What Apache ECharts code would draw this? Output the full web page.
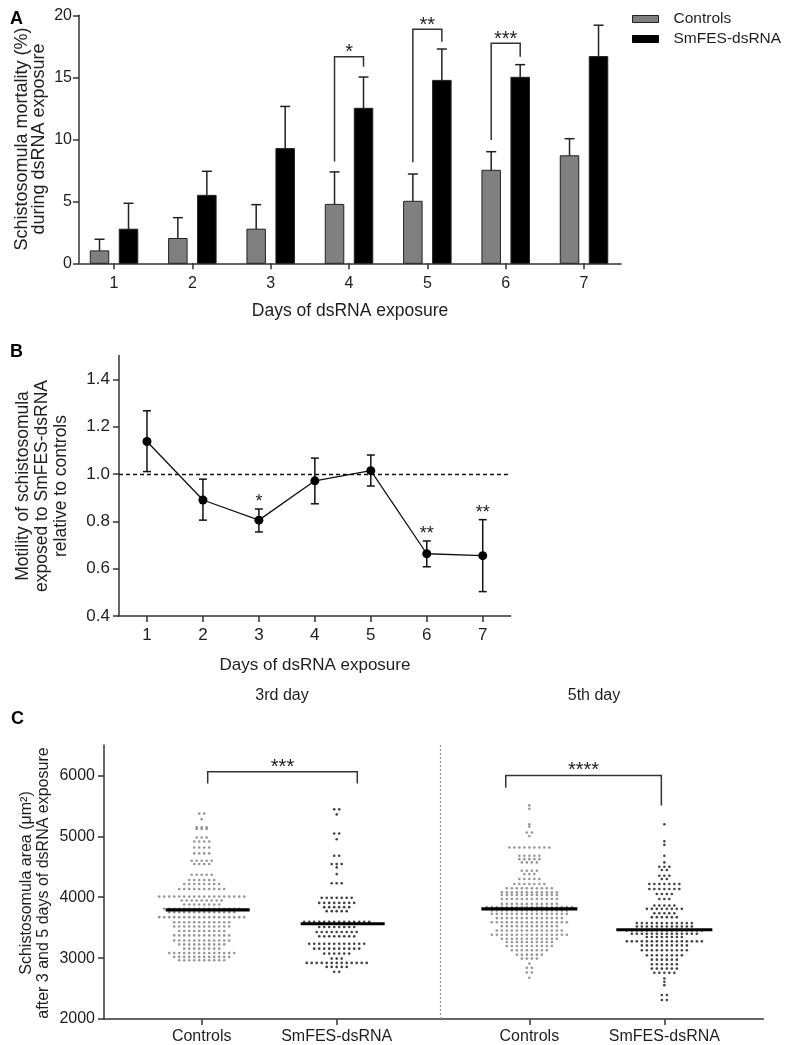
<!DOCTYPE html>
<html><head><meta charset="utf-8">
<script src="https://cdn.jsdelivr.net/npm/echarts@6/dist/echarts.min.js"></script>
<style>html,body{margin:0;padding:0;background:#fff}#c{width:787px;height:1045px}</style>
</head><body><div id="c"></div>
<script>
// ---------- Panel A data ----------
const daysA = [1, 2, 3, 4, 5, 6, 7];
const mortalityControls = [1.0, 2.0, 2.75, 4.75, 5.0, 7.5, 8.67];
const mortalityControlsSD = [0.94, 1.68, 1.98, 2.62, 2.2, 1.5, 1.38];
const mortalitySmFES = [2.75, 5.48, 9.25, 12.5, 14.75, 15.0, 16.67];
const mortalitySmFESSD = [2.09, 1.94, 3.4, 2.52, 2.53, 1.02, 2.53];
const sigDaysA = [4, 5, 6];
const sigLabelsA = ['*', '**', '***'];
const sigLeftFootA = [8.2, 8.15, 9.94];
const sigRightFootA = [15.85, 17.87, 16.66];
const sigTopA = [16.66, 18.87, 17.74];

// ---------- Panel B data ----------
const daysB = ['1', '2', '3', '4', '5', '6', '7'];
const motility = [1.137, 0.890, 0.805, 0.971, 1.014, 0.663, 0.655];
const motilityLow = [1.010, 0.805, 0.755, 0.874, 0.949, 0.608, 0.503];
const motilityHigh = [1.267, 0.978, 0.852, 1.067, 1.080, 0.717, 0.807];
const sigDaysB = [2, 5, 6];          // category indices (days 3, 6, 7)
const sigLabelsB = ['*', '**', '**'];
const referenceLevelB = 1.0;
const ticksB = [0.4, 0.6, 0.8, 1.0, 1.2, 1.4];

// ---------- Panel C data ----------
const groupNamesC = ['Controls', 'SmFES-dsRNA', 'Controls', 'SmFES-dsRNA'];
const groupPosC = [1, 2, 3.427, 4.427];
const dayDividerC = 2.77;
const mediansC = [3792, 3564, 3809, 3466];
const ticksC = [2000, 3000, 4000, 5000, 6000];
// rows of the dot plot: [area (µm²), number of dots at that level]
const ctrl3Rows = [[5373,2],[5280,1],[5150,3],[5120,3],[4980,3],[4915,4],[4817,4],[4720,4],[4600,5],[4545,4],[4370,5],[4283,6],[4218,8],[4136,10],[4010,18],[3945,9],[3880,8],[3810,16],[3755,14],[3673,18],[3590,12],[3520,12],[3445,10],[3373,12],[3290,12],[3225,10],[3155,8],[3085,14],[3020,12],[2965,10]];
const smfes3Rows = [[5443,2],[5360,1],[5046,2],[4953,1],[4680,2],[4544,3],[4490,1],[4380,1],[4229,3],[3990,7],[3907,8],[3837,6],[3771,5],[3596,14],[3510,8],[3428,9],[3357,8],[3237,12],[3155,10],[3074,6],[2992,3],[2921,13],[2856,5],[2775,2]];
const ctrl5Rows = [[5508,1],[5454,1],[5198,1],[5160,1],[5062,2],[5006,1],[4817,9],[4680,5],[4625,5],[4572,4],[4435,4],[4380,3],[4299,5],[4218,7],[4147,10],[4082,12],[4038,12],[3972,12],[3890,12],[3837,18],[3781,16],[3727,16],[3657,14],[3590,16],[3525,12],[3454,14],[3384,16],[3319,12],[3264,10],[3199,10],[3128,8],[3057,6],[2992,4],[2910,1],[2840,2],[2763,2],[2677,1]];
const smfes5Rows = [[5198,1],[4920,1],[4860,1],[4680,1],[4572,1],[4500,3],[4446,2],[4353,3],[4299,2],[4218,7],[4136,7],[4054,4],[3972,3],[3863,5],[3809,8],[3738,5],[3673,6],[3575,12],[3520,12],[3454,16],[3400,14],[3346,8],[3275,16],[3209,10],[3128,10],[3046,8],[2975,6],[2899,6],[2828,6],[2758,5],[2665,1],[2611,1],[2556,1],[2393,2],[2311,2]];
const sigPairsC = [[0, 1], [2, 3]];
const sigLabelsC = ['***', '****'];
const sigTopC = [6059, 6000];
const sigLeftFootC = [5868, 5797];
const sigRightFootC = [5868, 5508];

// ---------- styling / layout ----------
const FONT = '"Liberation Sans", Arial, Helvetica, sans-serif';
const TXT = '#1e1e1e';
const AX = '#333';
const GREY = '#808080';
const DOT_GREY = '#7c7c7c';
const BAR_OFF = 14.5, BAR_HW = 9.25;
const DOT_SPACING_PX = 5;
const PX_PER_UNIT_C = 659.3 / (5.16 - 0.2763);
const bracketOffsetsC = [[6, 20.6], [-23.6, -3]];
const medianHalfPx = [42, 42, 48, 48];
const medianShiftPx = [6, 6, 0, 0];

function swarm(rows, center) {
  const sp = DOT_SPACING_PX / PX_PER_UNIT_C;
  const pts = [];
  rows.forEach(([v, n]) => {
    for (let i = 0; i < n; i++) pts.push([center + (i - (n - 1) / 2) * sp, v]);
  });
  return pts;
}

function barRenderer(offsetPx, fill) {
  return function (params, api) {
    const x = api.value(0), v = api.value(1), hi = api.value(2);
    const base = api.coord([x, 0]), top = api.coord([x, v]), eh = api.coord([x, hi]);
    const cx = base[0] + offsetPx;
    const ls = { stroke: '#222', lineWidth: 1.5 };
    return { type: 'group', children: [
      { type: 'line', shape: { x1: cx, y1: top[1], x2: cx, y2: eh[1] }, style: ls },
      { type: 'line', shape: { x1: cx - 5, y1: eh[1], x2: cx + 5, y2: eh[1] }, style: ls },
      { type: 'rect', shape: { x: cx - BAR_HW, y: top[1], width: BAR_HW * 2, height: base[1] - top[1] }, style: { fill: fill, stroke: '#222', lineWidth: 1 } }
    ] };
  };
}

const axisLineStyle = { show: true, lineStyle: { color: AX, width: 1.5 } };
const tickStyle = { show: true, length: 6, lineStyle: { color: AX, width: 1.5 } };
const lbl = { color: TXT, fontSize: 16, fontFamily: FONT };
const lblB = { color: TXT, fontSize: 17, fontFamily: FONT };

const option = {
  animation: false,
  textStyle: { fontFamily: FONT },
  legend: {
    orient: 'vertical', left: 627, top: 6, itemWidth: 26, itemHeight: 7, itemGap: 4,
    selectedMode: false,
    textStyle: { color: TXT, fontSize: 15.5, fontFamily: FONT, padding: [0, 0, 0, 10] },
    data: [
      { name: 'Controls', icon: 'rect', itemStyle: { color: GREY, borderColor: '#222', borderWidth: 1 } },
      { name: 'SmFES-dsRNA', icon: 'rect', itemStyle: { color: '#000', borderColor: '#000', borderWidth: 1 } }
    ]
  },
  grid: [
    { left: 79, top: 15.3, width: 542, height: 248 },
    { left: 119, top: 355.6, width: 391.7, height: 260.4 },
    { left: 104, top: 745, width: 659.3, height: 275.7 }
  ],
  xAxis: [
    { type: 'value', gridIndex: 0, min: 0.553, max: 7.472, splitLine: { show: false },
      axisLine: axisLineStyle, axisTick: Object.assign({ customValues: daysA }, tickStyle),
      axisLabel: Object.assign({ customValues: daysA, margin: 12 }, lbl) },
    { type: 'category', gridIndex: 1, data: daysB, boundaryGap: true,
      axisLine: axisLineStyle, axisTick: Object.assign({ alignWithLabel: true }, tickStyle),
      axisLabel: Object.assign({ margin: 11 }, lblB) },
    { type: 'value', gridIndex: 2, min: 0.2763, max: 5.16, splitLine: { show: false },
      axisLine: axisLineStyle, axisTick: Object.assign({ customValues: groupPosC }, tickStyle),
      axisLabel: Object.assign({ customValues: groupPosC, margin: 10,
        formatter: v => { const i = groupPosC.findIndex(g => Math.abs(g - v) < 1e-6); return i >= 0 ? groupNamesC[i] : ''; } }, lbl) }
  ],
  yAxis: [
    { type: 'value', gridIndex: 0, min: 0, max: 20, interval: 5, splitLine: { show: false },
      axisLine: axisLineStyle, axisTick: tickStyle, axisLabel: Object.assign({ margin: 7 }, lbl) },
    { type: 'value', gridIndex: 1, min: 0.4, max: 1.5, splitLine: { show: false },
      axisLine: axisLineStyle,
      axisTick: Object.assign({ customValues: ticksB }, tickStyle),
      axisLabel: Object.assign({ customValues: ticksB, margin: 9, formatter: v => v.toFixed(1) }, lblB) },
    { type: 'value', gridIndex: 2, min: 2000, max: 6500, splitLine: { show: false },
      axisLine: axisLineStyle,
      axisTick: Object.assign({ customValues: ticksC }, tickStyle),
      axisLabel: Object.assign({ customValues: ticksC, margin: 9, formatter: v => String(Math.round(v)) }, lbl) }
  ],
  series: [
    // ----- A -----
    { name: 'Controls', type: 'custom', xAxisIndex: 0, yAxisIndex: 0,
      itemStyle: { color: GREY },
      renderItem: barRenderer(-BAR_OFF, GREY),
      data: daysA.map((d, i) => [d, mortalityControls[i], mortalityControls[i] + mortalityControlsSD[i]]) },
    { name: 'SmFES-dsRNA', type: 'custom', xAxisIndex: 0, yAxisIndex: 0,
      itemStyle: { color: '#000' },
      renderItem: barRenderer(BAR_OFF, '#000'),
      data: daysA.map((d, i) => [d, mortalitySmFES[i], mortalitySmFES[i] + mortalitySmFESSD[i]]) },
    { name: 'sigA', type: 'custom', xAxisIndex: 0, yAxisIndex: 0, silent: true,
      renderItem: function (params, api) {
        const i = params.dataIndex, d = api.value(0);
        const l = api.coord([d, sigLeftFootA[i]]), r = api.coord([d, sigRightFootA[i]]), t = api.coord([d, sigTopA[i]]);
        const xl = l[0] - BAR_OFF, xr = l[0] + BAR_OFF;
        return { type: 'group', children: [
          { type: 'polyline', shape: { points: [[xl, l[1]], [xl, t[1]], [xr, t[1]], [xr, r[1]]] }, style: { stroke: AX, lineWidth: 1.5, fill: null } },
          { type: 'text', x: (xl + xr) / 2, y: t[1] - 4, style: { text: sigLabelsA[i], align: 'center', verticalAlign: 'middle', fontSize: 20, fontFamily: FONT, fill: TXT } }
        ] };
      },
      data: sigDaysA.map(d => [d]) },
    // ----- B -----
    { name: 'motErr', type: 'custom', xAxisIndex: 1, yAxisIndex: 1, silent: true,
      renderItem: function (params, api) {
        const lo = api.coord([api.value(0), api.value(1)]), hi = api.coord([api.value(0), api.value(2)]);
        const x = lo[0], cw = 4, st = { stroke: '#111', lineWidth: 1.5 };
        return { type: 'group', children: [
          { type: 'line', shape: { x1: x, y1: lo[1], x2: x, y2: hi[1] }, style: st },
          { type: 'line', shape: { x1: x - cw, y1: lo[1], x2: x + cw, y2: lo[1] }, style: st },
          { type: 'line', shape: { x1: x - cw, y1: hi[1], x2: x + cw, y2: hi[1] }, style: st }
        ] };
      },
      data: motility.map((m, i) => [i, motilityLow[i], motilityHigh[i]]) },
    { name: 'Motility', type: 'line', xAxisIndex: 1, yAxisIndex: 1, z: 5,
      data: motility, symbol: 'circle', symbolSize: 9,
      itemStyle: { color: '#000' }, lineStyle: { color: '#111', width: 1.3 },
      markLine: { silent: true, symbol: 'none', label: { show: false },
        lineStyle: { color: '#111', type: [4, 3], width: 1.3 },
        data: [{ yAxis: referenceLevelB }] } },
    { name: 'sigB', type: 'custom', xAxisIndex: 1, yAxisIndex: 1, silent: true,
      renderItem: function (params, api) {
        const p = api.coord([api.value(0), api.value(1)]);
        return { type: 'text', x: p[0], y: p[1] - 7, style: { text: sigLabelsB[params.dataIndex], align: 'center', verticalAlign: 'middle', fontSize: 18, fontFamily: FONT, fill: TXT } };
      },
      data: sigDaysB.map(i => [i, motilityHigh[i]]) },
    // ----- C -----
    { name: 'Controls 3rd day', type: 'scatter', xAxisIndex: 2, yAxisIndex: 2, symbol: 'circle', symbolSize: 2.6,
      itemStyle: { color: DOT_GREY }, data: swarm(ctrl3Rows, groupPosC[0]),
      markLine: { silent: true, symbol: 'none', label: { show: false },
        lineStyle: { color: '#9a9a9a', type: [2, 2], width: 1.2 }, data: [{ xAxis: dayDividerC }] } },
    { name: 'SmFES 3rd day', type: 'scatter', xAxisIndex: 2, yAxisIndex: 2, symbol: 'circle', symbolSize: 2.6,
      itemStyle: { color: '#111' }, data: swarm(smfes3Rows, groupPosC[1]) },
    { name: 'Controls 5th day', type: 'scatter', xAxisIndex: 2, yAxisIndex: 2, symbol: 'circle', symbolSize: 2.6,
      itemStyle: { color: DOT_GREY }, data: swarm(ctrl5Rows, groupPosC[2]) },
    { name: 'SmFES 5th day', type: 'scatter', xAxisIndex: 2, yAxisIndex: 2, symbol: 'circle', symbolSize: 2.6,
      itemStyle: { color: '#111' }, data: swarm(smfes5Rows, groupPosC[3]) },
    { name: 'medians', type: 'custom', xAxisIndex: 2, yAxisIndex: 2, silent: true, z: 6,
      renderItem: function (params, api) {
        const i = params.dataIndex, p = api.coord([api.value(0), api.value(1)]);
        const cx = p[0] + medianShiftPx[i], hw = medianHalfPx[i];
        return { type: 'line', shape: { x1: cx - hw, y1: p[1], x2: cx + hw, y2: p[1] }, style: { stroke: '#000', lineWidth: 3.2 } };
      },
      data: groupPosC.map((g, i) => [g, mediansC[i]]) },
    { name: 'sigC', type: 'custom', xAxisIndex: 2, yAxisIndex: 2, silent: true,
      renderItem: function (params, api) {
        const i = params.dataIndex, pr = sigPairsC[i];
        const l = api.coord([groupPosC[pr[0]], sigLeftFootC[i]]);
        const r = api.coord([groupPosC[pr[1]], sigRightFootC[i]]);
        const t = api.coord([groupPosC[pr[0]], sigTopC[i]]);
        const xl = l[0] + bracketOffsetsC[i][0], xr = r[0] + bracketOffsetsC[i][1];
        return { type: 'group', children: [
          { type: 'polyline', shape: { points: [[xl, l[1]], [xl, t[1]], [xr, t[1]], [xr, r[1]]] }, style: { stroke: AX, lineWidth: 1.5, fill: null } },
          { type: 'text', x: (xl + xr) / 2, y: t[1] - 4.5, style: { text: sigLabelsC[i], align: 'center', verticalAlign: 'middle', fontSize: 20, fontFamily: FONT, fill: TXT } }
        ] };
      },
      data: sigPairsC.map((p, i) => [i]) }
  ],
  graphic: [
    { type: 'text', x: 10, y: 19, style: { text: 'A', fontSize: 18, fontWeight: 'bold', fontFamily: FONT, fill: '#000', verticalAlign: 'middle' } },
    { type: 'text', x: 10, y: 352, style: { text: 'B', fontSize: 18, fontWeight: 'bold', fontFamily: FONT, fill: '#000', verticalAlign: 'middle' } },
    { type: 'text', x: 11, y: 719, style: { text: 'C', fontSize: 18, fontWeight: 'bold', fontFamily: FONT, fill: '#000', verticalAlign: 'middle' } },
    { type: 'text', x: 30.5, y: 139, rotation: Math.PI / 2,
      style: { text: 'Schistosomula mortality (%)\nduring dsRNA exposure', align: 'center', verticalAlign: 'middle', fontSize: 18, lineHeight: 17, fontFamily: FONT, fill: TXT } },
    { type: 'text', x: 350, y: 311, style: { text: 'Days of dsRNA exposure', align: 'center', verticalAlign: 'middle', fontSize: 17.5, fontFamily: FONT, fill: TXT } },
    { type: 'text', x: 42, y: 486, rotation: Math.PI / 2,
      style: { text: 'Motility of schistosomula\nexposed to SmFES-dsRNA\nrelative to controls', align: 'center', verticalAlign: 'middle', fontSize: 17.5, lineHeight: 19, fontFamily: FONT, fill: TXT } },
    { type: 'text', x: 315, y: 665, style: { text: 'Days of dsRNA exposure', align: 'center', verticalAlign: 'middle', fontSize: 17, fontFamily: FONT, fill: TXT } },
    { type: 'text', x: 282, y: 696, style: { text: '3rd day', align: 'center', verticalAlign: 'middle', fontSize: 16, fontFamily: FONT, fill: TXT } },
    { type: 'text', x: 594, y: 696, style: { text: '5th day', align: 'center', verticalAlign: 'middle', fontSize: 16, fontFamily: FONT, fill: TXT } },
    { type: 'text', x: 35, y: 883, rotation: Math.PI / 2,
      style: { text: 'Schistosomula area (μm²)\nafter 3 and 5 days of dsRNA exposure', align: 'center', verticalAlign: 'middle', fontSize: 16, lineHeight: 17, fontFamily: FONT, fill: TXT } }
  ]
};

const chart = echarts.init(document.getElementById('c'));
chart.setOption(option);
</script>
</body></html>
